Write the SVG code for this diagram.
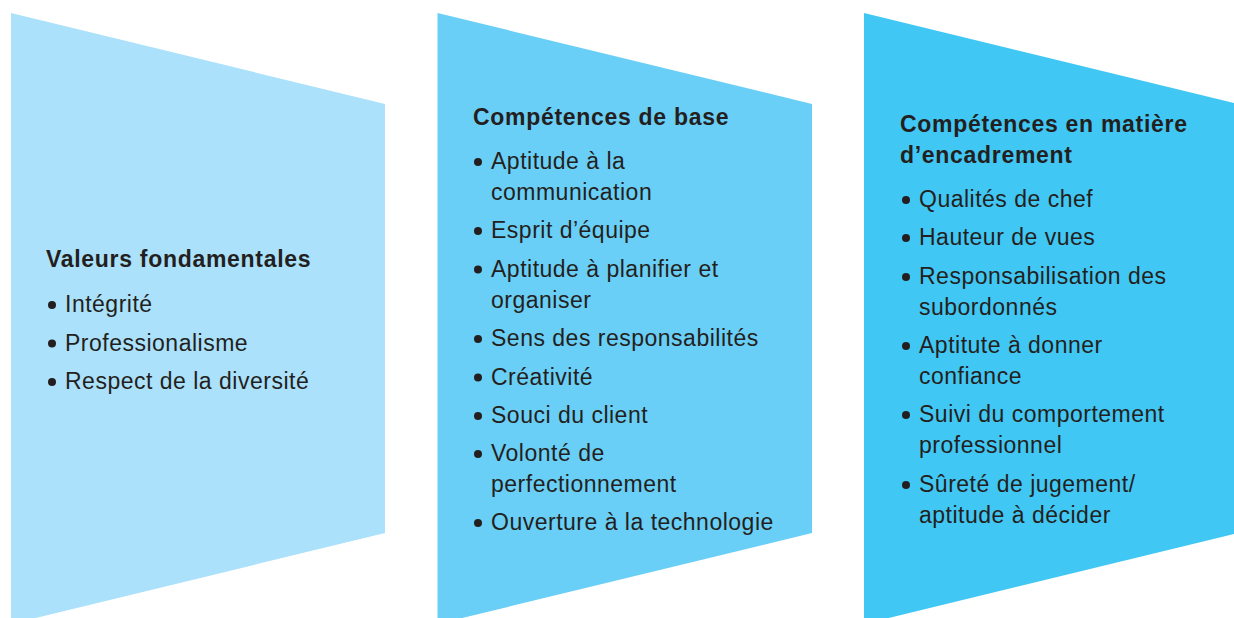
<svg xmlns="http://www.w3.org/2000/svg" width="1234" height="618" viewBox="0 0 1234 618">
  <style>
    .h { font-family: "Liberation Sans", Arial, sans-serif; font-weight: bold; font-size: 23px; fill: #231F20; letter-spacing: 0.7px; }
    .t { font-family: "Liberation Sans", Arial, sans-serif; font-size: 23px; fill: #231F20; letter-spacing: 0.5px; }
    .b { fill: #231F20; }
  </style>
  <rect width="1234" height="618" fill="#FFFFFF"/>

  <!-- Column 1: core values -->
  <g id="valeurs">
    <polygon points="11,13 385,104 385,533 11,624" fill="#ABE1FA"/>
    <text class="h" x="46" y="267">Valeurs fondamentales</text>
    <circle class="b" cx="52" cy="305" r="4"/>
    <text class="t" x="65" y="312">Intégrité</text>
    <circle class="b" cx="52" cy="343.5" r="4"/>
    <text class="t" x="65" y="350.5">Professionalisme</text>
    <circle class="b" cx="52" cy="382" r="4"/>
    <text class="t" x="65" y="389">Respect de la diversité</text>
  </g>

  <!-- Column 2: core competencies -->
  <g id="competences-base">
    <polygon points="437.5,13 812,104 812,533 437.5,624" fill="#6ACFF6"/>
    <text class="h" x="473" y="125">Compétences de base</text>
    <circle class="b" cx="478" cy="162" r="4"/>
    <text class="t" x="491" y="169">Aptitude à la</text>
    <text class="t" x="491" y="200">communication</text>
    <circle class="b" cx="478" cy="231" r="4"/>
    <text class="t" x="491" y="238">Esprit d’équipe</text>
    <circle class="b" cx="478" cy="269.5" r="4"/>
    <text class="t" x="491" y="276.5">Aptitude à planifier et</text>
    <text class="t" x="491" y="307.5">organiser</text>
    <circle class="b" cx="478" cy="339" r="4"/>
    <text class="t" x="491" y="346">Sens des responsabilités</text>
    <circle class="b" cx="478" cy="377.5" r="4"/>
    <text class="t" x="491" y="384.5">Créativité</text>
    <circle class="b" cx="478" cy="416" r="4"/>
    <text class="t" x="491" y="423">Souci du client</text>
    <circle class="b" cx="478" cy="454" r="4"/>
    <text class="t" x="491" y="461">Volonté de</text>
    <text class="t" x="491" y="492">perfectionnement</text>
    <circle class="b" cx="478" cy="523" r="4"/>
    <text class="t" x="491" y="530">Ouverture à la technologie</text>
  </g>

  <!-- Column 3: managerial competencies -->
  <g id="competences-encadrement">
    <polygon points="864,13 1238,104 1238,533 864,624" fill="#41C7F4"/>
    <text class="h" x="900" y="132">Compétences en matière</text>
    <text class="h" x="900" y="163">d’encadrement</text>
    <circle class="b" cx="906" cy="200" r="4"/>
    <text class="t" x="919" y="207">Qualités de chef</text>
    <circle class="b" cx="906" cy="238" r="4"/>
    <text class="t" x="919" y="245">Hauteur de vues</text>
    <circle class="b" cx="906" cy="277" r="4"/>
    <text class="t" x="919" y="284">Responsabilisation des</text>
    <text class="t" x="919" y="315">subordonnés</text>
    <circle class="b" cx="906" cy="346" r="4"/>
    <text class="t" x="919" y="353">Aptitute à donner</text>
    <text class="t" x="919" y="384">confiance</text>
    <circle class="b" cx="906" cy="415" r="4"/>
    <text class="t" x="919" y="422">Suivi du comportement</text>
    <text class="t" x="919" y="453">professionnel</text>
    <circle class="b" cx="906" cy="485" r="4"/>
    <text class="t" x="919" y="492">Sûreté de jugement/</text>
    <text class="t" x="919" y="523">aptitude à décider</text>
  </g>
</svg>
